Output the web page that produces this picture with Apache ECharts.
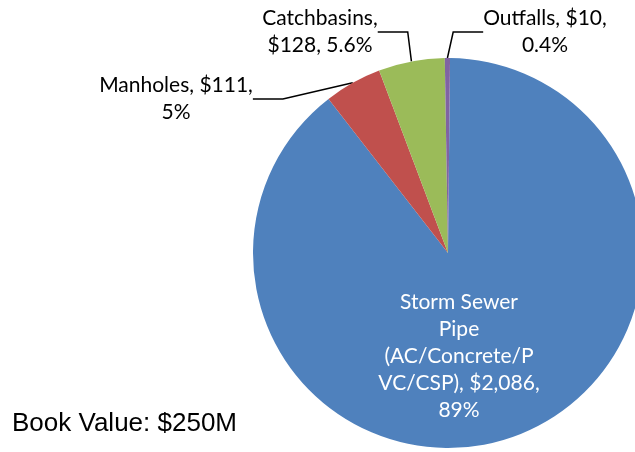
<!DOCTYPE html>
<html>
<head>
<meta charset="utf-8">
<script src="https://cdn.jsdelivr.net/npm/echarts@6/dist/echarts.min.js"></script>
<style>html,body{margin:0;padding:0;background:#fff}#c{width:635px;height:452px}</style>
</head>
<body>
<div id="c"></div>
<script>
const categories = ['Storm Sewer Pipe (AC/Concrete/PVC/CSP)', 'Manholes', 'Catchbasins', 'Outfalls'];
const values = [2086, 111, 128, 10];
const labelTexts = [
  'Storm Sewer\nPipe\n(AC/Concrete/P\nVC/CSP), $2,086,\n89%',
  'Manholes, $111,\n5%',
  'Catchbasins,\n$128, 5.6%',
  'Outfalls, $10,\n0.4%'
];
const colors = ['#4F81BD', '#C0504D', '#9BBB59', '#8064A2'];
const note = 'Book Value: $250M';

const labelPos = [[459, 356], [176, 99], [320, 32], [545, 32]];

const chart = echarts.init(document.getElementById('c'));
chart.setOption({
  animation: false,
  title: {
    text: note, left: 12, top: 411, padding: 0,
    textStyle: {fontFamily: 'Liberation Sans', fontSize: 26, fontWeight: 'normal', color: '#000'}
  },
  series: [{
    type: 'pie',
    center: [448, 253],
    radius: 195,
    startAngle: 89.4,
    clockwise: true,
    data: categories.map((c, i) => ({
      name: c,
      value: values[i],
      itemStyle: {color: colors[i]},
      label: i === 0 ? {position: 'inside', color: '#fff'} : {position: 'outside', color: '#000'},
      labelLine: {show: i !== 0}
    })),
    label: {
      formatter: p => labelTexts[p.dataIndex],
      fontFamily: 'Lato',
      fontSize: 21,
      lineHeight: 27,
      align: 'center'
    },
    labelLine: {
      show: true,
      lineStyle: {color: '#000', width: 1.5}
    },
    labelLayout: p => ({
      x: labelPos[p.dataIndex][0],
      y: labelPos[p.dataIndex][1],
      align: 'center',
      verticalAlign: 'middle'
    })
  }]
});
</script>
</body>
</html>
